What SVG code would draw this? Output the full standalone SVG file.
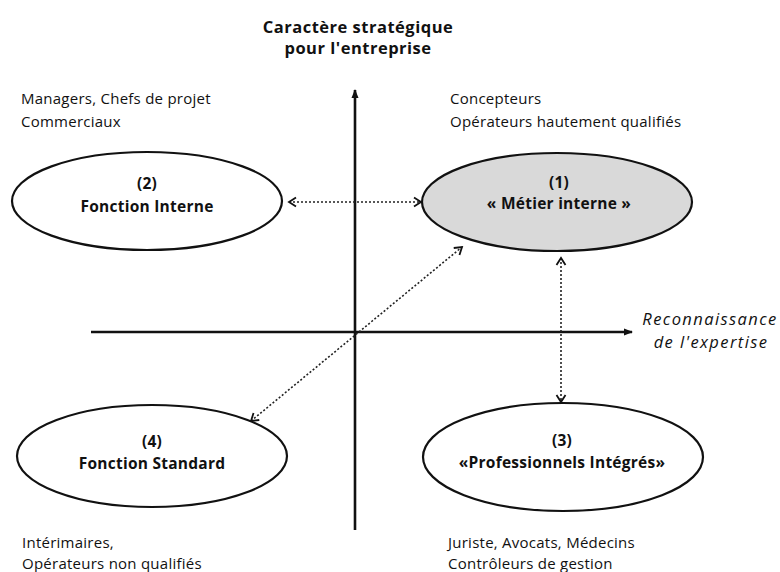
<svg xmlns="http://www.w3.org/2000/svg" width="780" height="572" viewBox="0 0 780 572">
<defs>
<style>
text{font-family:"Open Sans","Liberation Sans",Arial,sans-serif;fill:#111}
.t{font-size:16.5px;font-weight:bold;text-anchor:middle;letter-spacing:0.5px}
.lab{font-size:15px;letter-spacing:0.25px}
.nb{font-size:15.5px;font-weight:bold;text-anchor:middle;letter-spacing:0.25px}
.it{font-size:16.5px;font-style:italic;text-anchor:middle;letter-spacing:1.4px}
.ell{stroke:#111;stroke-width:2.2}
.axis{stroke:#111;stroke-width:2.6;fill:none}
.dot{stroke:#222;stroke-width:1.6;stroke-dasharray:2 2;fill:none}
</style>
<marker id="ah" markerWidth="10" markerHeight="10" refX="8" refY="5" orient="auto" markerUnits="userSpaceOnUse">
<path d="M0,1.5 L9,5 L0,8.5 Z" fill="#111"/>
</marker>
<marker id="ch" markerWidth="12" markerHeight="12" refX="9" refY="6" orient="auto-start-reverse" markerUnits="userSpaceOnUse">
<path d="M2,1.5 L9,6 L2,10.5" fill="none" stroke="#111" stroke-width="1.8"/>
</marker>
</defs>
<rect width="780" height="572" fill="#fff"/>

<g id="axes">
<line class="axis" x1="355" y1="530" x2="355" y2="90" marker-end="url(#ah)"/>
<line class="axis" x1="91" y1="332" x2="632" y2="332" marker-end="url(#ah)"/>
</g>

<g id="axis-labels">
<text class="t" x="358" y="33">Caractère stratégique</text>
<text class="t" x="358" y="54">pour l'entreprise</text>
<text class="it" x="710" y="325">Reconnaissance</text>
<text class="it" x="711" y="348">de l'expertise</text>
</g>

<g id="quadrant-labels">
<text class="lab" x="21" y="104">Managers, Chefs de projet</text>
<text class="lab" x="21" y="127">Commerciaux</text>
<text class="lab" x="450" y="104">Concepteurs</text>
<text class="lab" x="450" y="127">Opérateurs hautement qualifiés</text>
<text class="lab" x="22" y="548">Intérimaires,</text>
<text class="lab" x="22" y="569">Opérateurs non qualifiés</text>
<text class="lab" x="448" y="548">Juriste, Avocats, Médecins</text>
<text class="lab" x="448" y="569">Contrôleurs de gestion</text>
</g>

<g id="node2">
<ellipse class="ell" cx="147" cy="201" rx="135" ry="49" fill="#fff"/>
<text class="nb" x="147" y="189">(2)</text>
<text class="nb" x="147" y="212">Fonction Interne</text>
</g>

<g id="node1">
<ellipse class="ell" cx="557" cy="202" rx="135" ry="49" fill="#d9d9d9"/>
<text class="nb" x="559" y="188">(1)</text>
<text class="nb" x="559" y="209">« Métier interne »</text>
</g>

<g id="node4">
<ellipse class="ell" cx="152" cy="456" rx="135" ry="51" fill="#fff"/>
<text class="nb" x="152" y="447">(4)</text>
<text class="nb" x="152" y="469">Fonction Standard</text>
</g>

<g id="node3">
<ellipse class="ell" cx="563" cy="457" rx="140" ry="54" fill="#fff"/>
<text class="nb" x="562" y="446">(3)</text>
<text class="nb" x="562" y="468">«Professionnels Intégrés»</text>
</g>

<g id="connectors">
<line class="dot" x1="289" y1="202" x2="421" y2="202" marker-start="url(#ch)" marker-end="url(#ch)"/>
<line class="dot" x1="251" y1="421" x2="462" y2="247" marker-start="url(#ch)" marker-end="url(#ch)"/>
<line class="dot" x1="561" y1="258" x2="561" y2="402" marker-start="url(#ch)" marker-end="url(#ch)"/>
</g>
</svg>
